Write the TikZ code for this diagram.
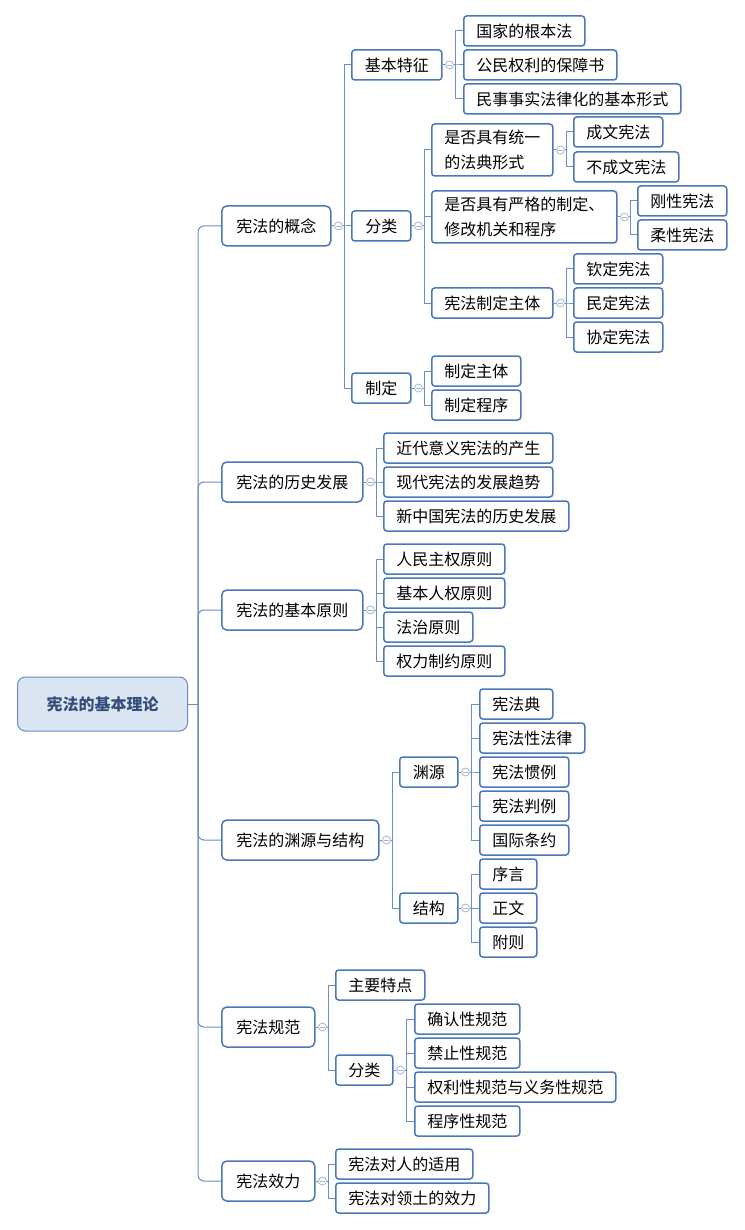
\documentclass[tikz,border=0pt]{standalone}
\usepackage{fontspec}
\newfontfamily\cjk{Noto Sans CJK SC}
\definecolor{bord}{RGB}{74,120,185}
\definecolor{linec}{RGB}{108,142,196}
\definecolor{togc}{RGB}{165,182,214}
\definecolor{rootfill}{RGB}{220,230,243}
\definecolor{rootbord}{RGB}{105,138,190}
\definecolor{roottext}{RGB}{50,78,122}
\tikzset{
  box/.style={draw=bord, line width=1.5pt, rounded corners=3pt, fill=white, inner sep=0pt,
    minimum height=30pt, anchor=west, font=\cjk\fontsize{16}{25}\selectfont},
  l1/.style={box, minimum height=40pt, rounded corners=5pt},
  two/.style={box, minimum height=52pt, align=left},
  rootbox/.style={draw=rootbord, line width=1pt, rounded corners=8pt, fill=rootfill, inner sep=0pt,
    anchor=west, text=roottext, font=\cjk\bfseries\fontsize{16}{20}\selectfont},
  conn/.style={draw=linec, line width=1pt},
  tog/.style={circle, draw=togc, line width=0.8pt, fill=white, minimum size=8pt, inner sep=0pt,
    path picture={\draw[togc, line width=0.8pt] ([xshift=-2.2pt]path picture bounding box.center) -- ([xshift=2.2pt]path picture bounding box.center);}}
}
\newcommand\bx[6][box]{\node[#1, minimum width=#5pt] (#2) at (#3,#4) {#6};}
\newcommand\mybranch[3]{%
  \node[tog] (#2) at ([xshift=7pt]#1.east) {};
  \draw[conn] (#1.east) -- (#2.west);
  \foreach \c in {#3}{\draw[conn] (#2.east) -- ++(2pt,0pt) |- (\c.west);}
}
\begin{document}
\begin{tikzpicture}[x=1pt,y=-1pt]
\useasboundingbox[fill=white] (0,0) rectangle (744,1230);
% root
\node[rootbox, minimum width=170pt, minimum height=54pt] (root) at (17,704) {宪法的基本理论};
% level 1
\bx[l1]{c1}{221}{226}{109}{宪法的概念}
\bx[l1]{c2}{221}{482}{141}{宪法的历史发展}
\bx[l1]{c3}{221}{610}{141}{宪法的基本原则}
\bx[l1]{c4}{221}{840}{157}{宪法的渊源与结构}
\bx[l1]{c5}{221}{1027}{93}{宪法规范}
\bx[l1]{c6}{221}{1181}{93}{宪法效力}
% c1 subtree
\bx{c1a}{351}{65}{90}{基本特征}
\bx{c1b}{351}{226}{59}{分类}
\bx{c1c}{351}{388}{59}{制定}
\bx{a1}{463}{31}{121}{国家的根本法}
\bx{a2}{463}{65}{153}{公民权利的保障书}
\bx{a3}{463}{99}{217}{民事事实法律化的基本形式}
\bx[two]{b1}{431}{150}{121}{是否具有统一\\的法典形式}
\bx[two]{b2}{431}{217}{185}{是否具有严格的制定、\\修改机关和程序}
\bx{b3}{431}{303}{121}{宪法制定主体}
\bx{b11}{573}{132}{89}{成文宪法}
\bx{b12}{573}{167}{105}{不成文宪法}
\bx{b21}{637}{201}{89}{刚性宪法}
\bx{b22}{637}{235}{89}{柔性宪法}
\bx{b31}{573}{269}{89}{钦定宪法}
\bx{b32}{573}{303}{89}{民定宪法}
\bx{b33}{573}{337}{89}{协定宪法}
\bx{d1}{431}{371}{89}{制定主体}
\bx{d2}{431}{405}{89}{制定程序}
% c2 subtree
\bx{e1}{383}{448}{169}{近代意义宪法的产生}
\bx{e2}{383}{482}{169}{现代宪法的发展趋势}
\bx{e3}{383}{516}{185}{新中国宪法的历史发展}
% c3 subtree
\bx{f1}{383}{559}{121}{人民主权原则}
\bx{f2}{383}{593}{121}{基本人权原则}
\bx{f3}{383}{627}{89}{法治原则}
\bx{f4}{383}{661}{121}{权力制约原则}
% c4 subtree
\bx{g1}{399}{772}{58}{渊源}
\bx{g2}{399}{908}{58}{结构}
\bx{g11}{479}{704}{73}{宪法典}
\bx{g12}{479}{738}{105}{宪法性法律}
\bx{g13}{479}{772}{89}{宪法惯例}
\bx{g14}{479}{806}{89}{宪法判例}
\bx{g15}{479}{840}{89}{国际条约}
\bx{g21}{479}{874}{57}{序言}
\bx{g22}{479}{908}{57}{正文}
\bx{g23}{479}{942}{57}{附则}
% c5 subtree
\bx{h1}{335}{985}{89}{主要特点}
\bx{h2}{335}{1070}{57}{分类}
\bx{h21}{414}{1019}{105}{确认性规范}
\bx{h22}{414}{1053}{105}{禁止性规范}
\bx{h23}{414}{1087}{201}{权利性规范与义务性规范}
\bx{h24}{414}{1121}{105}{程序性规范}
% c6 subtree
\bx{k1}{335}{1164}{137}{宪法对人的适用}
\bx{k2}{335}{1198}{153}{宪法对领土的效力}
% root connectors
\draw[conn] (root.east) -- ++(10pt,0pt) coordinate (rt);
\foreach \c in {c1,c2,c3,c4,c5,c6}{\draw[conn, rounded corners=6pt] (rt) |- (\c.west);}
% branches
\mybranch{c1}{t1}{c1a,c1b,c1c}
\mybranch{c1a}{t1a}{a1,a2,a3}
\mybranch{c1b}{t1b}{b1,b2,b3}
\mybranch{b1}{tb1}{b11,b12}
\mybranch{b2}{tb2}{b21,b22}
\mybranch{b3}{tb3}{b31,b32,b33}
\mybranch{c1c}{t1c}{d1,d2}
\mybranch{c2}{t2}{e1,e2,e3}
\mybranch{c3}{t3}{f1,f2,f3,f4}
\mybranch{c4}{t4}{g1,g2}
\mybranch{g1}{tg1}{g11,g12,g13,g14,g15}
\mybranch{g2}{tg2}{g21,g22,g23}
\mybranch{c5}{t5}{h1,h2}
\mybranch{h2}{th2}{h21,h22,h23,h24}
\mybranch{c6}{t6}{k1,k2}
\end{tikzpicture}
\end{document}
